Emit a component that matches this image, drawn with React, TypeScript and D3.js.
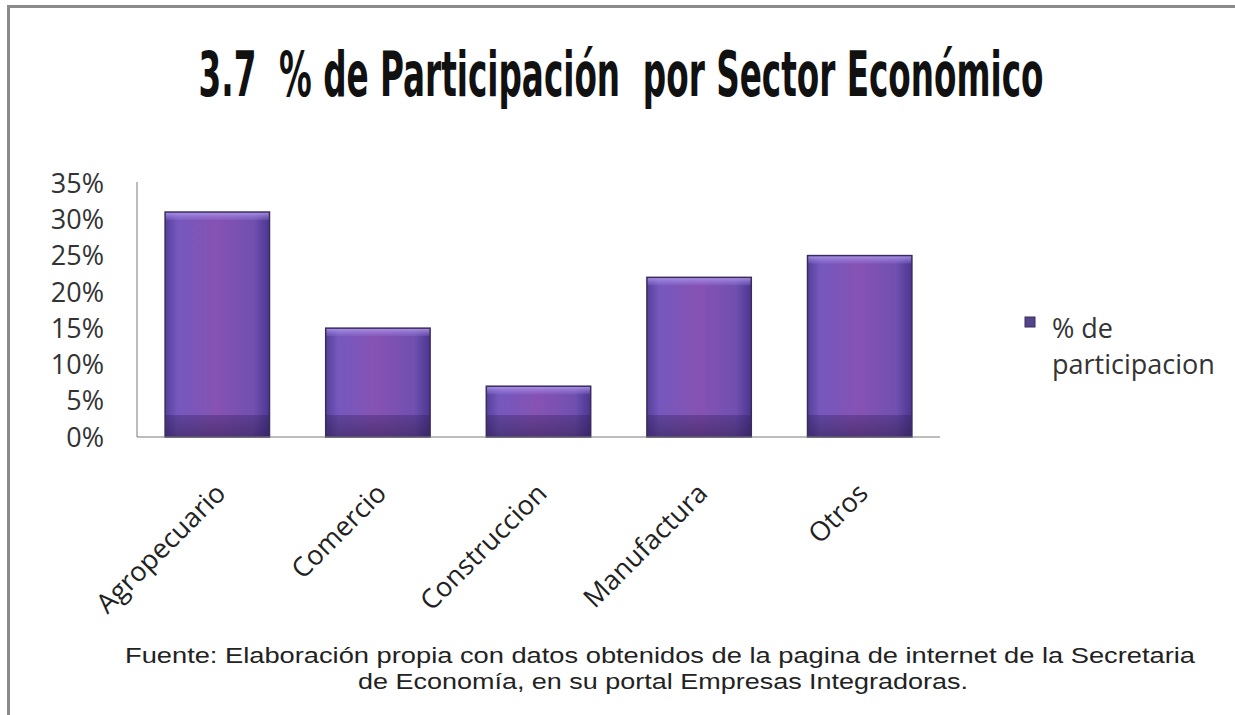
import React, { useLayoutEffect, useRef, useState } from "react";
import * as d3 from "d3";

const categories = ["Agropecuario", "Comercio", "Construccion", "Manufactura", "Otros"];
const values = [0.31, 0.15, 0.07, 0.22, 0.25];
const yTicks = [0, 0.05, 0.1, 0.15, 0.2, 0.25, 0.3, 0.35];
const titleText = "3.7  % de Participación  por Sector Económico";
const legendLines = ["% de", "participacion"];
const sourceLines = [
  "Fuente: Elaboración propia con datos obtenidos de la pagina de internet de la Secretaria",
  "de Economía, en su portal Empresas Integradoras.",
];

const W = 1235;
const H = 715;
const plot = { left: 137, right: 940, top: 183, bottom: 437 };

export default function App() {
  const titleRef = useRef<SVGTextElement>(null);
  const [titleScale, setTitleScale] = useState(0.62);

  useLayoutEffect(() => {
    const el = titleRef.current;
    if (el) {
      const len = el.getComputedTextLength();
      if (len > 0) setTitleScale(845 / len);
    }
  }, []);

  const x = d3
    .scaleBand<string>()
    .domain(categories)
    .range([plot.left, plot.right])
    .paddingInner(0.35)
    .paddingOuter(0.175);
  const y = d3.scaleLinear().domain([0, 0.35]).range([plot.bottom, plot.top]);
  const fmt = d3.format(".0%");
  const labelFont = "'Open Sans', 'Noto Sans', sans-serif";

  return (
    <svg
      width={W}
      height={H}
      viewBox={`0 0 ${W} ${H}`}
      style={{ position: "absolute", left: 0, top: 0, display: "block", background: "#ffffff" }}
    >
      <defs>
        <linearGradient id="barH" x1="0" y1="0" x2="1" y2="0">
          <stop offset="0" stopColor="#56409a" />
          <stop offset="0.12" stopColor="#7558bd" />
          <stop offset="0.5" stopColor="#8652b3" />
          <stop offset="0.85" stopColor="#7050b0" />
          <stop offset="1" stopColor="#4b3690" />
        </linearGradient>
        <linearGradient id="barBottom" x1="0" y1="0" x2="0" y2="1">
          <stop offset="0" stopColor="#2a1850" stopOpacity="0.3" />
          <stop offset="1" stopColor="#24153f" stopOpacity="0.5" />
        </linearGradient>
        <linearGradient id="barTop" x1="0" y1="0" x2="0" y2="1">
          <stop offset="0" stopColor="#b39cec" stopOpacity="0.9" />
          <stop offset="1" stopColor="#9a7fe0" stopOpacity="0.2" />
        </linearGradient>
      </defs>

      <rect x={0} y={0} width={W} height={H} fill="#ffffff" />
      {/* frame */}
      <rect x={7} y={5} width={W - 7} height={3} fill="#8a8a8a" />
      <rect x={7} y={5} width={3} height={H - 5} fill="#8a8a8a" />

      {/* title */}
      <g transform={`translate(621,96) scale(${titleScale},1)`}>
        <text
          ref={titleRef}
          x={0}
          y={0}
          textAnchor="middle"
          fontFamily="'Liberation Sans Narrow', 'DejaVu Sans Condensed', sans-serif"
          fontWeight="bold"
          fontSize={62}
          fill="#111111"
          style={{ whiteSpace: "pre" }}
        >
          {titleText}
        </text>
      </g>

      {/* bars */}
      {categories.map((c, i) => {
        const bx = x(c) as number;
        const bw = x.bandwidth();
        const by = y(values[i]);
        const bh = plot.bottom - by;
        return (
          <g key={c}>
            <rect x={bx} y={by} width={bw} height={bh} fill="url(#barH)" />
            <rect x={bx} y={by} width={bw} height={8} fill="url(#barTop)" />
            <rect x={bx} y={plot.bottom - 22} width={bw} height={22} fill="url(#barBottom)" />
            <rect
              x={bx}
              y={by}
              width={bw}
              height={bh}
              fill="none"
              stroke="#3a2c5e"
              strokeWidth={1.5}
            />
          </g>
        );
      })}

      {/* axes */}
      <line x1={plot.left} y1={plot.top - 1} x2={plot.left} y2={plot.bottom} stroke="#7a7a7a" strokeWidth={1} />
      <line x1={plot.left} y1={plot.bottom} x2={plot.right} y2={plot.bottom} stroke="#7a7a7a" strokeWidth={1} />

      {yTicks.map((t) => (
        <text
          key={t}
          x={104}
          y={y(t)}
          dy="0.36em"
          textAnchor="end"
          fontFamily={labelFont}
          fontSize={27}
          fill="#333333"
        >
          {fmt(t)}
        </text>
      ))}

      {categories.map((c) => {
        const cx = (x(c) as number) + x.bandwidth() / 2;
        return (
          <text
            key={c}
            transform={`translate(${cx + 10},${495}) rotate(-45)`}
            textAnchor="end"
            fontFamily={labelFont}
            fontSize={27}
            fill="#222222"
          >
            {c}
          </text>
        );
      })}

      {/* legend */}
      <rect x={1025} y={317} width={10} height={10} fill="#54448a" stroke="#3a2c5e" strokeWidth={1} />
      {legendLines.map((l, i) => (
        <text
          key={l}
          x={1052}
          y={338 + i * 36}
          fontFamily={labelFont}
          fontSize={27}
          fill="#333333"
        >
          {l}
        </text>
      ))}

      {/* source */}
      {sourceLines.map((l, i) => (
        <text
          key={l}
          x={i === 0 ? 125 : 358}
          y={663 + i * 26}
          fontFamily="'Liberation Sans Narrow', 'Liberation Sans', sans-serif"
          fontSize={22}
          fill="#222222"
          textLength={i === 0 ? 1070 : 610}
          lengthAdjust="spacingAndGlyphs"
        >
          {l}
        </text>
      ))}
    </svg>
  );
}
